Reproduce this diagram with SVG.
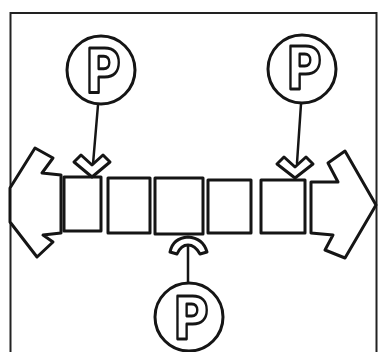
<svg xmlns="http://www.w3.org/2000/svg" width="378" height="352" viewBox="0 0 378 352">
  <style>
    .ink { fill: #fff; stroke: #151515; stroke-width: 3; stroke-linejoin: round; stroke-linecap: round; }
    .line { fill: none; stroke: #151515; stroke-width: 2.5; stroke-linecap: round; }
    .frame { fill: none; stroke: #222; stroke-width: 2; }
    .p { font-family: "DejaVu Sans", sans-serif; font-weight: bold; font-size: 61px; fill: #fff; stroke: #151515; stroke-width: 3; stroke-linejoin: round; }
  </style>
  <rect width="378" height="352" fill="#fff"/>

  <!-- outer frame, open at the bottom -->
  <path class="frame" d="M10.5,352 V13 H376.5 V352"/>

  <!-- the track: two arrow ends and a row of cells -->
  <g id="track">
    <polygon id="left-arrow" class="ink" points="61,175 42,173 53,158 35,148 10,188 10,222 37,257 53,242 43,235 61,233"/>
    <polygon id="right-arrow" class="ink" points="311,182 338,182 328,163 345,151 376,205 345,258 325,250 333,235 311,233"/>
    <rect id="cell-1" class="ink" x="64" y="177" width="37" height="54"/>
    <rect id="cell-2" class="ink" x="108" y="178" width="42" height="55"/>
    <rect id="cell-3" class="ink" x="155" y="178" width="48" height="56"/>
    <rect id="cell-4" class="ink" x="208" y="180" width="43" height="53"/>
    <rect id="cell-5" class="ink" x="261" y="180" width="44" height="53"/>
  </g>

  <!-- connectors from the P nodes to the cells -->
  <g id="connectors">
    <path class="line" d="M98,105 L93,164"/>
    <polygon class="ink" points="74,162 81,155 92,165 103,155 110,162 92,177"/>
    <path class="line" d="M301,104 L297,163"/>
    <polygon class="ink" points="277,164 284,157 295,167 306,157 313,164 295,178"/>
    <path class="line" d="M188,283 L188,246"/>
    <path class="ink" d="M170,252 Q173,238 188,237 Q203,238 207,252 L200,254 Q195,245 188,245 Q181,245 177,254 Z"/>
  </g>

  <g id="p-top-left">
    <circle class="ink" cx="101" cy="70" r="34" stroke-width="2.5"/>
    <text class="p" text-anchor="middle" transform="translate(103,92) scale(0.8,1)">P</text>
  </g>
  <g id="p-top-right">
    <circle class="ink" cx="302" cy="69" r="34" stroke-width="2.5"/>
    <text class="p" text-anchor="middle" transform="translate(304,89) scale(0.8,0.95)">P</text>
  </g>
  <g id="p-bottom">
    <circle class="ink" cx="189" cy="317" r="34" stroke-width="2.5"/>
    <text class="p" text-anchor="middle" transform="translate(191,339) scale(0.8,0.97)">P</text>
  </g>
</svg>
